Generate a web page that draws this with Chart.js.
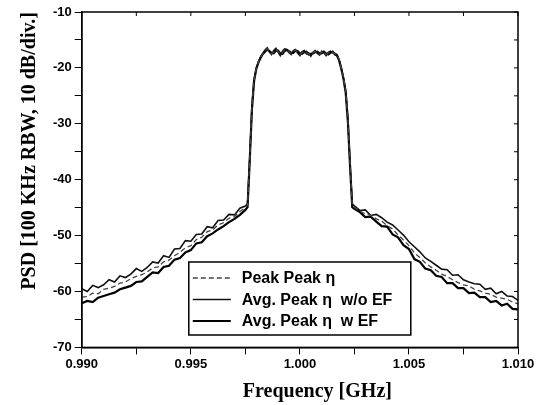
<!DOCTYPE html>
<html>
<head>
<meta charset="utf-8">
<script src="https://cdn.jsdelivr.net/npm/chart.js@4.4.1/dist/chart.umd.min.js"></script>
<style>
  body { margin: 0; background: #fff; }
</style>
</head>
<body>
<canvas id="graficoPsd" width="544" height="405"></canvas>
<script>
// Frequência (GHz) - eixo X
const frequencias = [
    0.99, 0.99025, 0.9905, 0.99075, 0.991, 0.99125, 0.9915, 0.99175, 0.992, 0.99225,
    0.9925, 0.99275, 0.993, 0.99325, 0.9935, 0.99375, 0.994, 0.99425, 0.9945, 0.99475,
    0.995, 0.99525, 0.9955, 0.99575, 0.996, 0.99625, 0.9965, 0.99675, 0.997, 0.99725, 0.9975,
    0.9976, 0.9977, 0.9978, 0.9979, 0.998, 0.9981, 0.9982, 0.9983,
    0.9984, 0.9985, 0.9986, 0.9987, 0.9988, 0.9989, 0.999, 0.9991, 0.9992, 0.9993, 0.9994,
    0.9995, 0.9996, 0.9997, 0.9998, 0.9999, 1.0, 1.0001, 1.0002, 1.0003, 1.0004, 1.0005,
    1.0006, 1.0007, 1.0008, 1.0009, 1.001, 1.0011, 1.0012, 1.0013, 1.0014, 1.0015, 1.0016,
    1.0017, 1.0018, 1.0019, 1.002, 1.0021, 1.0022, 1.0023, 1.0024,
    1.0025, 1.00275, 1.003, 1.00325, 1.0035, 1.00375, 1.004, 1.00425, 1.0045, 1.00475,
    1.005, 1.00525, 1.0055, 1.00575, 1.006, 1.00625, 1.0065, 1.00675, 1.007, 1.00725,
    1.0075, 1.00775, 1.008, 1.00825, 1.0085, 1.00875, 1.009, 1.00925, 1.0095, 1.00975, 1.01
];

// Peak Peak η (tracejada)
const psdPeakPeak = [
    -61.0, -60.9, -60.3, -60.4, -59.6, -59.4, -59.1, -58.5, -58.3, -57.7,
    -57.3, -57.0, -56.5, -55.8, -55.6, -54.7, -54.4, -53.6, -53.0, -52.2,
    -51.8, -50.7, -50.3, -49.3, -49.0, -48.1, -47.7, -46.9, -46.6, -45.7, -45.0,
    -44.6, -36.3, -27.2, -22.1, -20.1, -18.9, -18.1, -17.5,
    -17.0, -16.6, -16.9, -17.5, -17.2, -16.7, -17.0, -17.6, -17.3, -16.8, -16.9,
    -17.1, -17.5, -17.1, -16.8, -17.2, -17.6, -17.3, -17.0, -17.3, -17.5, -17.7,
    -17.3, -17.1, -17.2, -17.6, -17.2, -17.1, -17.6, -17.4, -17.1, -17.2, -17.5,
    -17.7, -18.6, -20.1, -21.9, -24.2, -29.3, -37.3, -44.6,
    -45.0, -45.6, -46.1, -46.4, -47.0, -47.4, -48.2, -48.8, -49.9, -50.8,
    -51.8, -53.1, -53.9, -54.9, -55.6, -56.2, -56.9, -57.3, -57.9, -58.4,
    -58.8, -59.0, -59.6, -59.9, -60.3, -60.5, -61.0, -61.2, -61.4, -61.9, -62.2
];

// Avg. Peak η sem EF (linha fina)
const psdMediaSemEf = [
    -59.5, -60.0, -58.9, -59.3, -58.8, -57.9, -58.3, -57.2, -57.5, -56.9,
    -55.9, -56.4, -55.7, -54.7, -54.9, -53.6, -53.9, -52.4, -52.3, -50.9,
    -51.0, -49.8, -49.7, -48.4, -48.6, -47.3, -47.2, -46.2, -46.3, -45.1, -44.7,
    -44.3, -36.0, -27.0, -22.0, -20.0, -18.9, -18.0, -17.4,
    -16.8, -16.4, -17.1, -17.6, -16.9, -16.5, -17.2, -17.8, -17.0, -16.6, -16.7,
    -17.3, -17.6, -16.9, -16.7, -17.4, -17.8, -17.1, -16.9, -17.5, -17.3, -17.9,
    -17.2, -16.9, -17.4, -17.7, -17.0, -17.3, -17.8, -17.2, -17.0, -17.3, -17.4,
    -17.6, -18.5, -20.0, -21.8, -24.0, -29.0, -37.0, -44.3,
    -44.7, -45.5, -45.4, -46.4, -46.2, -46.8, -47.6, -48.1, -49.0, -49.9,
    -51.1, -52.0, -52.9, -54.0, -54.6, -55.3, -56.0, -56.1, -57.1, -57.0,
    -57.9, -58.3, -58.6, -58.7, -59.6, -59.4, -60.4, -60.0, -60.8, -60.9, -61.6
];

// Avg. Peak η com EF (linha grossa)
const psdMediaComEf = [
    -62.1, -61.7, -61.9, -61.1, -60.8, -60.5, -60.2, -59.6, -59.3, -59.0,
    -58.3, -58.2, -57.4, -56.6, -56.7, -55.6, -55.4, -54.3, -54.0, -53.0,
    -52.6, -51.4, -51.2, -50.1, -49.6, -48.9, -48.3, -47.6, -47.0, -46.3, -45.4,
    -44.9, -36.6, -27.5, -22.3, -20.2, -19.0, -18.2, -17.5,
    -17.1, -16.7, -17.0, -17.3, -17.4, -16.9, -16.9, -17.4, -17.5, -17.0, -16.8,
    -17.0, -17.3, -17.3, -16.9, -17.0, -17.4, -17.5, -17.2, -17.1, -17.6, -17.5,
    -17.4, -17.2, -17.1, -17.4, -17.4, -17.1, -17.4, -17.6, -17.3, -17.1, -17.6,
    -17.8, -18.7, -20.2, -22.0, -24.4, -29.6, -37.6, -44.9,
    -45.2, -45.8, -46.7, -46.6, -47.5, -48.3, -48.4, -49.8, -50.3, -51.7,
    -52.4, -54.2, -54.7, -55.9, -56.2, -57.2, -57.4, -58.5, -58.5, -59.4,
    -59.4, -60.3, -60.2, -61.0, -61.0, -61.9, -61.7, -62.5, -62.2, -63.1, -63.2
];

const rotulos = ['Peak Peak η', 'Avg. Peak η  w/o EF', 'Avg. Peak η  w EF'];

function pontos(valores) {
    return frequencias.map((f, i) => ({ x: f, y: valores[i] }));
}

// Legenda desenhada dentro da área do gráfico + moldura
const pluginMoldura = {
    id: 'moldura',
    afterDraw(chart) {
        const ctx = chart.ctx;
        const area = chart.chartArea;
        const escalaX = chart.scales.x;
        const escalaY = chart.scales.y;

        ctx.save();
        ctx.strokeStyle = '#000';
        ctx.lineWidth = 1.5;
        ctx.strokeRect(area.left, area.top, area.right - area.left, area.bottom - area.top);

        // marcas internas no topo e na direita
        ctx.lineWidth = 1;
        escalaX.ticks.forEach((t) => {
            const px = escalaX.getPixelForValue(t.value);
            ctx.beginPath();
            ctx.moveTo(px, area.top);
            ctx.lineTo(px, area.top + 4);
            ctx.stroke();
        });
        escalaY.ticks.forEach((t) => {
            const py = escalaY.getPixelForValue(t.value);
            ctx.beginPath();
            ctx.moveTo(area.right, py);
            ctx.lineTo(area.right - 4, py);
            ctx.stroke();
        });

        // caixa da legenda
        const bx = area.left + 107;
        const by = area.top + 250;
        const bw = 222;
        const bh = 73;
        ctx.fillStyle = '#fff';
        ctx.fillRect(bx, by, bw, bh);
        ctx.lineWidth = 1.5;
        ctx.strokeRect(bx, by, bw, bh);

        ctx.font = 'bold 16px "Liberation Sans", Arial, sans-serif';
        ctx.textBaseline = 'middle';
        chart.data.datasets.forEach((ds, i) => {
            const yy = by + 16 + i * 21.5;
            ctx.beginPath();
            ctx.strokeStyle = ds.borderColor;
            ctx.lineWidth = ds.borderWidth;
            ctx.setLineDash(ds.borderDash || []);
            ctx.moveTo(bx + 4, yy);
            ctx.lineTo(bx + 42, yy);
            ctx.stroke();
            ctx.setLineDash([]);
            ctx.fillStyle = '#000';
            ctx.fillText(ds.label, bx + 53, yy + 1);
        });
        ctx.restore();
    }
};

const ctxPsd = document.getElementById('graficoPsd').getContext('2d');

const graficoPsd = new Chart(ctxPsd, {
    type: 'line',
    data: {
        datasets: [
            {
                label: rotulos[0],
                data: pontos(psdPeakPeak),
                borderColor: '#444',
                borderWidth: 1.3,
                borderDash: [5, 3]
            },
            {
                label: rotulos[1],
                data: pontos(psdMediaSemEf),
                borderColor: '#111',
                borderWidth: 1.6
            },
            {
                label: rotulos[2],
                data: pontos(psdMediaComEf),
                borderColor: '#000',
                borderWidth: 2.2
            }
        ]
    },
    options: {
        responsive: false,
        animation: false,
        devicePixelRatio: 1,
        elements: {
            point: { radius: 0 },
            line: { tension: 0 }
        },
        layout: {
            padding: { left: 18, top: 12, right: 26, bottom: 1 }
        },
        scales: {
            x: {
                type: 'linear',
                min: 0.99,
                max: 1.01,
                ticks: {
                    stepSize: 0.0025,
                    autoSkip: false,
                    maxRotation: 0,
                    color: '#000',
                    padding: 2,
                    font: { family: 'Liberation Sans', size: 13, weight: 'bold' },
                    callback: (v, i) => (i % 2 === 0 ? v.toFixed(3) : '')
                },
                grid: {
                    drawOnChartArea: false,
                    tickLength: 7,
                    tickColor: '#000'
                },
                border: { color: '#000', width: 1.5 },
                title: {
                    display: true,
                    text: '       Frequency [GHz]',
                    color: '#000',
                    padding: { top: 6, bottom: 0 },
                    font: { family: 'Liberation Serif', size: 20, weight: 'bold' }
                }
            },
            y: {
                min: -70,
                max: -10,
                ticks: {
                    stepSize: 5,
                    color: '#000',
                    padding: 3,
                    font: { family: 'Liberation Sans', size: 13, weight: 'bold' },
                    callback: (v) => (v % 10 === 0 ? String(v) : '')
                },
                grid: {
                    drawOnChartArea: false,
                    tickLength: 7,
                    tickColor: '#000'
                },
                border: { color: '#000', width: 1.5 },
                title: {
                    display: true,
                    align: 'end',
                    text: 'PSD [100 KHz RBW, 10 dB/div.]',
                    color: '#000',
                    padding: { top: 0, bottom: 8 },
                    font: { family: 'Liberation Serif', size: 20, weight: 'bold' }
                }
            }
        },
        plugins: {
            legend: { display: false },
            tooltip: { enabled: false }
        }
    },
    plugins: [pluginMoldura]
});
</script>
</body>
</html>
